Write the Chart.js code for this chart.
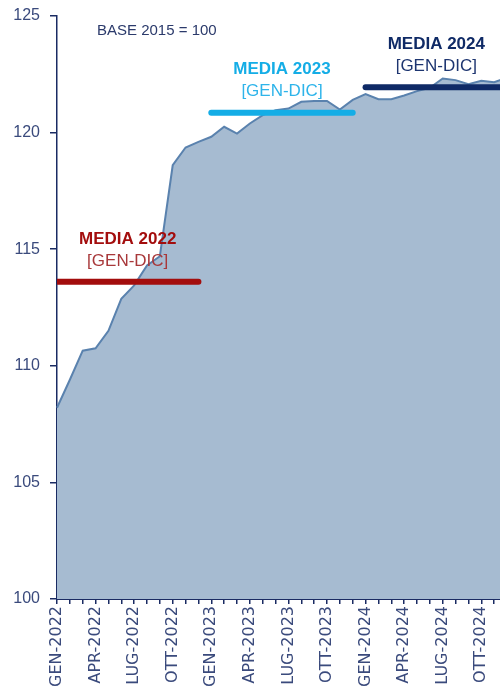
<!DOCTYPE html>
<html>
<head>
<meta charset="utf-8">
<script src="https://cdn.jsdelivr.net/npm/chart.js@4/dist/chart.umd.min.js"></script>
<style>
  html, body { margin:0; padding:0; background:#fff; overflow:hidden; }
  #wrap { position:relative; width:507px; height:700px; }
</style>
</head>
<body>
<div id="wrap"><canvas id="chart"></canvas></div>
<script>
'use strict';
// ---- Dati ----
const MESI = ['GEN','FEB','MAR','APR','MAG','GIU','LUG','AGO','SET','OTT','NOV','DIC'];
const ANNI = [2022, 2023, 2024];
const labels = ANNI.flatMap(a => MESI.map(m => `${m}-${a}`));

const indice2022 = [108.2, 109.4, 110.65, 110.75, 111.5, 112.87, 113.45, 114.3, 114.7, 118.6, 119.36, 119.6];
const indice2023 = [119.82, 120.25, 119.96, 120.39, 120.75, 120.96, 121.03, 121.32, 121.36, 121.36, 120.99, 121.4];
const indice2024 = [121.65, 121.43, 121.43, 121.59, 121.78, 121.92, 122.32, 122.25, 122.08, 122.22, 122.16, 122.35];
const indice = [...indice2022, ...indice2023, ...indice2024];

const medie       = [113.6, 120.85, 121.95];
const medieTitoli = ['MEDIA 2022', 'MEDIA 2023', 'MEDIA 2024'];
const medieSotto  = ['[GEN-DIC]', '[GEN-DIC]', '[GEN-DIC]'];
const medieColori = ['#a30d0d', '#14ade6', '#0f2a66'];
const medieColoriSotto = ['#a8383a', '#2eb4ea', '#1d3570'];

const yTicks = [100, 105, 110, 115, 120, 125];

// ---- Stile ----
const NAVY = '#1a2b63';
const FONT = "'Liberation Sans', Arial, sans-serif";
const FONT_X = "'DejaVu Sans', sans-serif";

// una serie per ogni media annuale: valore solo nei mesi dell'anno
const mediaDataset = (k) => ({
  label: medieTitoli[k],
  data: labels.map((_, i) => Math.floor(i / 12) === k ? medie[k] : null),
  borderColor: medieColori[k], borderWidth: 6, borderCapStyle: 'round',
  pointRadius: 0, fill: false, spanGaps: false, order: 0, clip: 0
});

// testi sopra le linee delle medie
const mediaLabels = {
  id: 'mediaLabels',
  afterDatasetsDraw(chart) {
    const { ctx, scales: { x, y } } = chart;
    ctx.save();
    ctx.textAlign = 'center'; ctx.textBaseline = 'middle';
    medie.forEach((m, k) => {
      const cx = (x.getPixelForValue(k * 12) + x.getPixelForValue(k * 12 + 11)) / 2;
      const py = y.getPixelForValue(m);
      ctx.font = `bold 17px ${FONT}`; ctx.fillStyle = medieColori[k];
      ctx.fillText(medieTitoli[k], cx, py - 43);
      ctx.font = `17px ${FONT}`; ctx.fillStyle = medieColoriSotto[k];
      ctx.fillText(medieSotto[k], cx, py - 21);
    });
    ctx.textAlign = 'left';
    ctx.font = `15px ${FONT}`; ctx.fillStyle = '#2b3a6b';
    ctx.fillText('BASE 2015 = 100', 97, 31);
    ctx.restore();
  }
};

new Chart(document.getElementById('chart').getContext('2d'), {
  type: 'line',
  data: {
    labels,
    datasets: [
      mediaDataset(0), mediaDataset(1), mediaDataset(2),
      { label: 'Indice', data: indice, borderColor: '#5a82ae', borderWidth: 2,
        backgroundColor: '#a6bbd1', fill: 'start', pointRadius: 0, tension: 0, order: 1 }
    ]
  },
  options: {
    responsive: true, maintainAspectRatio: false, animation: false,
    layout: { padding: { top: 16, left: 0, right: 0, bottom: 0 } },
    plugins: { legend: { display: false }, tooltip: { enabled: false } },
    scales: {
      x: {
        offset: false,
        afterFit: s => { s.height = 101; s.paddingLeft = 0; s.paddingRight = 0; },
        border: { color: NAVY, width: 2 },
        grid: { drawOnChartArea: false, drawTicks: true, tickLength: 5, color: NAVY, lineWidth: 1.5 },
        ticks: {
          autoSkip: false, minRotation: 90, maxRotation: 90, padding: 2,
          color: '#3a4a7c', font: { family: FONT_X, size: 16 },
          callback: (v, i) => i % 3 === 0 ? labels[i] : ''
        }
      },
      y: {
        min: 100, max: 125,
        afterFit: s => { s.width = 57; s.paddingTop = 0; },
        afterBuildTicks: s => { s.ticks = yTicks.map(v => ({ value: v })); },
        border: { color: NAVY, width: 1.5 },
        grid: { drawOnChartArea: false, drawTicks: true, tickLength: 7, color: NAVY, lineWidth: 1.5 },
        ticks: { padding: 10, color: '#3a4a7c', font: { family: FONT, size: 16 } }
      }
    }
  },
  plugins: [mediaLabels]
});
</script>
</body>
</html>
